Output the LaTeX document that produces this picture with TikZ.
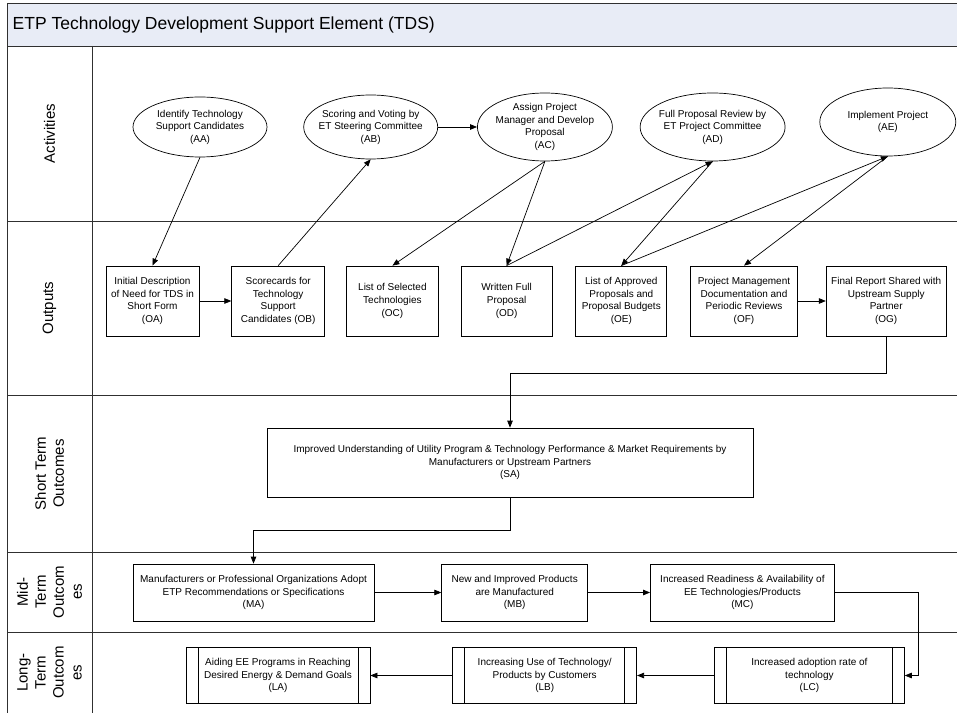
\documentclass[tikz,border=0pt]{standalone}
\usepackage{fontspec}
\setmainfont{Liberation Sans}
\usetikzlibrary{positioning,shapes.geometric,arrows.meta}
\definecolor{titleblue}{HTML}{E8ECF6}
\definecolor{laneline}{HTML}{303030}

\begin{document}
\begin{tikzpicture}[x=1pt, y=1pt, line width=0.7pt,
    >={Triangle[length=7pt,width=5.5pt]},
    act/.style={draw, ellipse, align=center, inner xsep=-10pt, inner ysep=-4pt,
                minimum width=134pt, minimum height=64pt,
                font=\fontsize{10}{12.5}\selectfont},
    outbox/.style={draw, rectangle, align=center, inner sep=2pt,
                   minimum height=70pt, font=\fontsize{10}{12.7}\selectfont},
    midbox/.style={outbox, minimum height=57pt},
    procbox/.style={outbox, minimum height=56pt,
        path picture={\draw ([xshift=12pt]path picture bounding box.north west)
                         -- ([xshift=12pt]path picture bounding box.south west)
                         ([xshift=-12pt]path picture bounding box.north east)
                         -- ([xshift=-12pt]path picture bounding box.south east);}},
    lane/.style={rotate=90, align=center, font=\fontsize{15}{18}\selectfont}]

    \useasboundingbox (0,0) rectangle (957,713);

    % Lanes
    \fill[titleblue] (7,667) rectangle (957,710);
    \draw[laneline] (957,710) -- (7,710) -- (7,0);
    \draw[laneline] (7,667) -- (957,667);
    \foreach \y in {492,318,161,81}
        \draw[laneline] (7,\y) -- (957,\y);
    \draw[laneline] (92,667) -- (92,0);

    \node (title) [anchor=west, font=\fontsize{17.5}{20}\selectfont] at (9,688.5)
          {ETP Technology Development Support Element (TDS)};
    \node (lact)   [lane] at (49.5,579.5) {Activities};
    \node (lout)   [lane] at (49.5,405)   {Outputs};
    \node (lshort) [lane] at (49.5,239.5) {Short Term\\Outcomes};
    \node (lmid)   [lane] at (49.5,121)   {Mid-\\Term\\Outcom\\es};
    \node (llong)  [lane] at (49.5,40.5)  {Long-\\Term\\Outcom\\es};

    % Nodes
    \node (AA) [act, minimum height=60pt] at (200,586)
          {Identify Technology\\Support Candidates\\(AA)};
    \node (AB) [act, right=36pt of AA] {Scoring and Voting by\\ET Steering Committee\\(AB)};
    \node (AC) [act, minimum width=135pt, minimum height=68pt, right=39pt of AB]
          {Assign Project\\Manager and Develop\\Proposal\\(AC)};
    \node (AD) [act, minimum width=145pt, minimum height=68pt, right=27pt of AC]
          {Full Proposal Review by\\ET Project Committee\\(AD)};
    \node (AE) [act, minimum width=136pt, minimum height=68pt, right=34pt of AD, yshift=5pt]
          {Implement Project\\(AE)};

    \node (OA) [outbox, minimum width=93pt] at (152.5,412)
          {Initial Description\\of Need for TDS in\\Short Form\\(OA)};
    \node (OB) [outbox, minimum width=93pt, right=32pt of OA]
          {Scorecards for\\Technology\\Support\\Candidates (OB)};
    \node (OC) [outbox, minimum width=92pt, right=21pt of OB]
          {List of Selected\\Technologies\\(OC)};
    \node (OD) [outbox, minimum width=91pt, right=22pt of OC]
          {Written Full\\Proposal\\(OD)};
    \node (OE) [outbox, minimum width=91pt, right=23pt of OD]
          {List of Approved\\Proposals and\\Proposal Budgets\\(OE)};
    \node (OF) [outbox, minimum width=107pt, right=23pt of OE]
          {Project Management\\Documentation and\\Periodic Reviews\\(OF)};
    \node (OG) [outbox, minimum width=120pt, right=28pt of OF]
          {Final Report Shared with\\Upstream Supply\\Partner\\(OG)};

    \node (SA) [outbox, minimum width=486pt, minimum height=69pt] at (510,250.5)
          {Improved Understanding of Utility Program \& Technology Performance \& Market Requirements by\\
           Manufacturers or Upstream Partners\\(SA)};

    \node (MA) [midbox, minimum width=241pt] at (253.5,120.5)
          {Manufacturers or Professional Organizations Adopt\\ETP Recommendations or Specifications\\(MA)};
    \node (MB) [midbox, minimum width=146pt, right=67pt of MA]
          {New and Improved Products\\are Manufactured\\(MB)};
    \node (MC) [midbox, minimum width=184pt, right=62pt of MB]
          {Increased Readiness \& Availability of\\EE Technologies/Products\\(MC)};

    \node (LA) [procbox, minimum width=184pt] at (278,37.5)
          {Aiding EE Programs in Reaching\\Desired Energy \& Demand Goals\\(LA)};
    \node (LB) [procbox, minimum width=184pt, right=82pt of LA]
          {Increasing Use of Technology/\\Products by Customers\\(LB)};
    \node (LC) [procbox, minimum width=190pt, right=77pt of LB]
          {Increased adoption rate of\\technology\\(LC)};

    % Arrows
    \draw[->] (AA.south) -- (OA.north);
    \draw[->] (OB.north) -- (AB.south);
    \draw[->] (AB) -- (AC);
    \draw[->] (AC.south) -- (OC.north);
    \draw[->] (AC.south) -- (OD.north);
    \draw[->] (OD.north) -- (AD.south);
    \draw[->] (AD.south) -- (OE.north);
    \draw[->] (OE.north) -- (AE.south);
    \draw[->] (AE.south) -- (OF.north);
    \draw[->] (OA) -- (OB);
    \draw[->] (OF) -- (OG);
    \draw[->] (OG.south) -- ++(0,-37) -| (SA.north);
    \draw[->] (SA.south) -- ++(0,-33) -| (MA.north);
    \draw[->] (MA) -- (MB);
    \draw[->] (MB) -- (MC);
    \draw[->] (MC.east) -- ++(84,0) |- (LC.east);
    \draw[->] (LC) -- (LB);
    \draw[->] (LB) -- (LA);

\end{tikzpicture}
\end{document}
